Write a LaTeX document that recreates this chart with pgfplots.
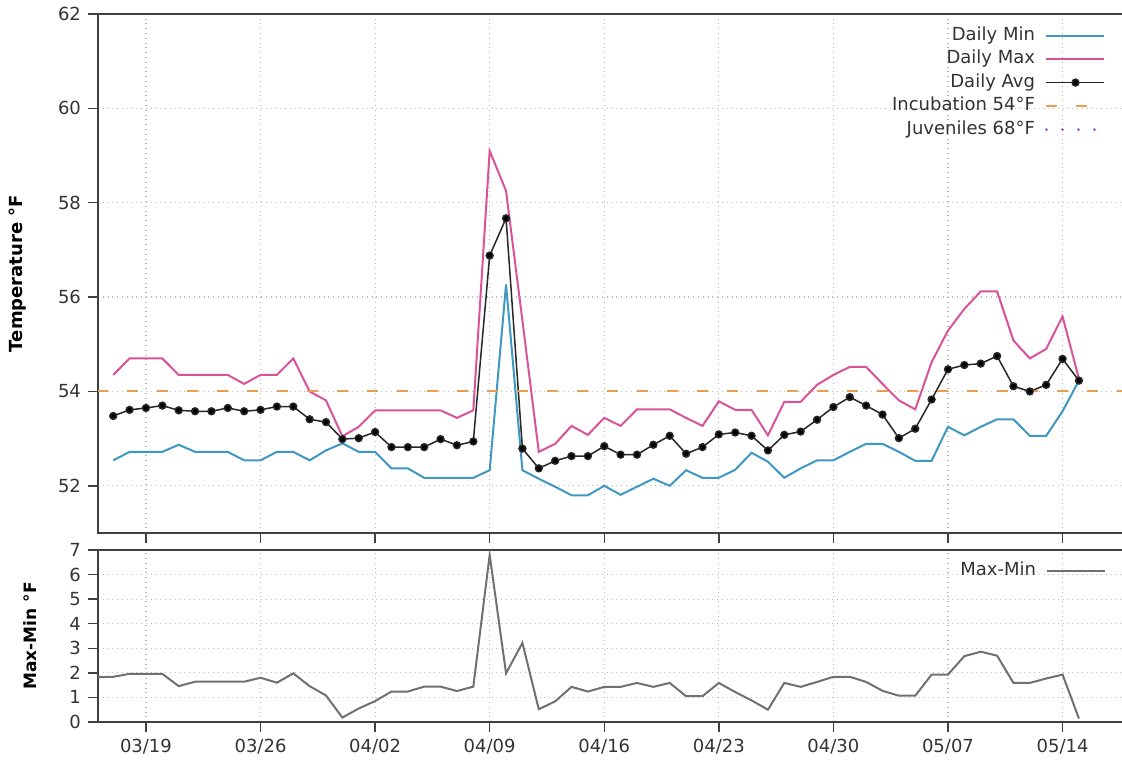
\documentclass[border=0pt]{standalone}
\usepackage{fontspec}
\setmainfont{DejaVu Sans}
\usepackage{pgfplots}
\usepackage{pgfplotstable}
\pgfplotsset{compat=1.18}
\definecolor{cmin}{HTML}{3E98C3}
\definecolor{cmax}{HTML}{D9529A}
\definecolor{cinc}{HTML}{E8A050}
\definecolor{cjuv}{HTML}{9A55D0}
\definecolor{cdiff}{HTML}{707070}
\definecolor{caxis}{HTML}{404040}
\pgfplotstableread{
d min max avg
-2 52.54 54.35 53.48
-1 52.72 54.70 53.61
0 52.72 54.70 53.65
1 52.72 54.70 53.70
2 52.87 54.35 53.60
3 52.72 54.35 53.58
4 52.72 54.35 53.58
5 52.72 54.35 53.65
6 52.54 54.16 53.58
7 52.54 54.35 53.61
8 52.72 54.35 53.68
9 52.72 54.70 53.68
10 52.54 54.00 53.41
11 52.75 53.81 53.35
12 52.90 53.05 52.99
13 52.72 53.25 53.01
14 52.72 53.60 53.14
15 52.37 53.60 52.82
16 52.37 53.60 52.82
17 52.17 53.60 52.82
18 52.17 53.60 52.99
19 52.17 53.44 52.86
20 52.17 53.60 52.94
21 52.33 59.10 56.88
22 56.27 58.25 57.67
23 52.33 55.50 52.79
24 52.15 52.72 52.37
25 51.98 52.89 52.53
26 51.80 53.27 52.63
27 51.80 53.08 52.63
28 52.00 53.44 52.84
29 51.81 53.27 52.66
30 51.98 53.62 52.66
31 52.15 53.62 52.87
32 52.00 53.62 53.06
33 52.33 53.44 52.68
34 52.17 53.27 52.82
35 52.17 53.79 53.09
36 52.34 53.61 53.13
37 52.70 53.61 53.06
38 52.51 53.07 52.75
39 52.17 53.78 53.08
40 52.37 53.78 53.15
41 52.54 54.14 53.40
42 52.54 54.35 53.67
43 52.72 54.52 53.88
44 52.89 54.52 53.70
45 52.89 54.16 53.51
46 52.72 53.81 53.01
47 52.53 53.62 53.21
48 52.53 54.62 53.83
49 53.25 55.29 54.47
50 53.07 55.75 54.56
51 53.25 56.12 54.59
52 53.41 56.12 54.75
53 53.41 55.08 54.11
54 53.06 54.70 54.00
55 53.06 54.90 54.14
56 53.58 55.59 54.69
57 54.23 54.27 54.23
}\temps
\pgfplotstableread{
d diff
-3 1.82
-2 1.84
-1 1.96
0 1.96
1 1.96
2 1.46
3 1.64
4 1.64
5 1.64
6 1.64
7 1.80
8 1.60
9 1.98
10 1.46
11 1.08
12 0.18
13 0.55
14 0.85
15 1.24
16 1.24
17 1.44
18 1.44
19 1.26
20 1.44
21 6.80
22 1.98
23 3.22
24 0.52
25 0.84
26 1.43
27 1.24
28 1.43
29 1.43
30 1.59
31 1.43
32 1.59
33 1.05
34 1.05
35 1.59
36 1.22
37 0.88
38 0.50
39 1.59
40 1.43
41 1.63
42 1.84
43 1.84
44 1.63
45 1.27
46 1.07
47 1.07
48 1.93
49 1.93
50 2.68
51 2.86
52 2.70
53 1.59
54 1.59
55 1.77
56 1.93
57 0.14
}\diffs
\pgfplotsset{
  base/.style={
    scale only axis,
    width=515pt,
    xmin=-2.93, xmax=60,
    xtick={0,7,14,21,28,35,42,49,56},
    tick align=outside,
    xtick pos=bottom, ytick pos=left,
    major tick length=5pt,
    axis line style={caxis, line width=0.75pt},
    every tick/.style={caxis, line width=0.75pt},
    grid=major,
    major grid style={gray!55, dotted, line width=0.6pt},
    tick label style={font=\fontsize{9}{11}\selectfont, text=black!80},
    /pgf/number format/assume math mode=true,
    ylabel style={at={(axis description cs:0,0.5)}, anchor=center},
    legend cell align=right,
    legend plot pos=right,
    legend style={draw=none, fill=none, inner sep=0pt, outer sep=0pt, row sep=0pt, column sep=3.5pt,
      font=\fontsize{9}{11}\selectfont, text=black!80,
      nodes={inner sep=1.5pt, text height=6.75pt, text depth=2pt}},
    legend image code/.code={\draw[mark repeat=2,mark phase=2,##1] plot coordinates {(0pt,0pt) (14.5pt,0pt) (29pt,0pt)};},
  }
}
\begin{document}
\begin{tikzpicture}
\path[use as bounding box] (0,0) rectangle (561pt,385pt);
\begin{axis}[base,
  at={(49pt,118.5pt)}, anchor=south west,
  height=259.5pt,
  ymin=51, ymax=62, ytick={52,54,56,58,60,62},
  xticklabels={},
  ylabel={Temperature °F},
  ylabel style={yshift=40pt, font=\bfseries\fontsize{9}{11}\selectfont},
  legend style={at={(axis description cs:0.9786,0.981)}, anchor=north east},
]
\addplot[cmin, line width=1pt] table[x=d, y=min] {\temps};
\addlegendentry{Daily Min}
\addplot[cmax, line width=1pt] table[x=d, y=max] {\temps};
\addlegendentry{Daily Max}
\addplot[black!85, line width=0.75pt, mark=*, mark size=1.7pt, mark options={fill=black, solid}] table[x=d, y=avg] {\temps};
\addlegendentry{Daily Avg}
\addplot[cinc, line width=1pt, dash pattern=on 5.5pt off 9.5pt] coordinates {(-3,54) (60,54)};
\addlegendentry{Incubation 54°F}
\addplot[cjuv, line width=1.5pt, line cap=round, dash pattern=on 0pt off 8pt] coordinates {(-3,68) (60,68)};
\addlegendentry{Juveniles 68°F}
\end{axis}
\begin{axis}[base,
  at={(49pt,24pt)}, anchor=south west,
  height=86pt,
  ymin=0, ymax=7, ytick={0,1,2,3,4,5,6,7},
  xticklabels={03/19,03/26,04/02,04/09,04/16,04/23,04/30,05/07,05/14},
  ylabel={Max-Min °F},
  ylabel style={yshift=34pt, font=\bfseries\fontsize{8.5}{10}\selectfont},
  legend style={at={(axis description cs:0.9786,0.947)}, anchor=north east},
]
\addplot[cdiff, line width=1pt] table[x=d, y=diff] {\diffs};
\addlegendentry{Max-Min}
\end{axis}
\end{tikzpicture}
\end{document}
